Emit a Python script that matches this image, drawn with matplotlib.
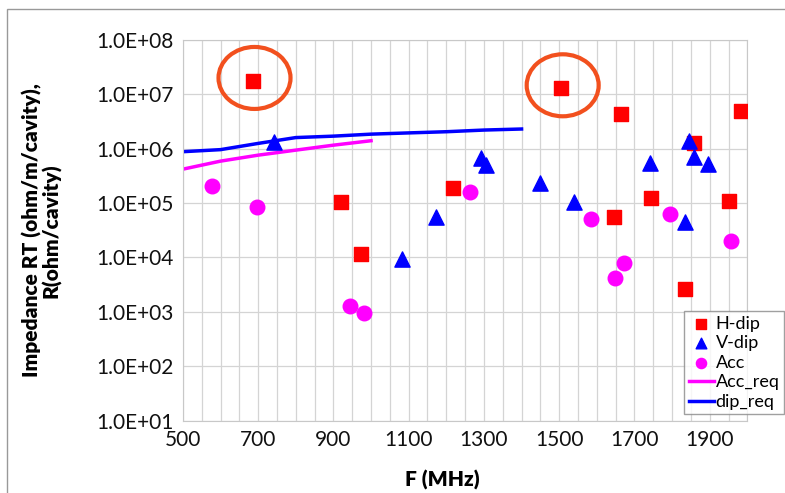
import numpy as np
import matplotlib
matplotlib.use("Agg")
import matplotlib.pyplot as plt
from matplotlib.patches import Ellipse, Rectangle
from matplotlib.transforms import ScaledTranslation

plt.rcParams['font.family'] = ['Lato', 'DejaVu Sans']

# H-dip modes
hdip_f = [685, 920, 974, 1219, 1504, 1663, 1982, 1859, 1743, 1645, 1951, 1834]
hdip_r = [1.76e7, 1.03e5, 1.15e4, 1.86e5, 1.29e7, 4.3e6, 5.0e6, 1.25e6, 1.25e5, 5.5e4, 1.08e5, 2.6e3]

# V-dip modes
vdip_f = [742, 1173, 1083, 1292, 1305, 1448, 1540, 1741, 1844, 1859, 1896, 1834]
vdip_r = [1.34e6, 5.6e4, 9.3e3, 6.6e5, 5.0e5, 2.35e5, 1.05e5, 5.5e5, 1.38e6, 7.1e5, 5.2e5, 4.5e4]

# accelerating modes
acc_f = [578, 697, 1262, 944, 981, 1584, 1794, 1957, 1671, 1649]
acc_r = [2.1e5, 8.3e4, 1.57e5, 1.28e3, 9.5e2, 5.0e4, 6.4e4, 2.0e4, 7.8e3, 4.2e3]

# requirement curves
accreq_f = [500, 600, 700, 800, 900, 1000]
accreq_r = [4.2e5, 5.9e5, 7.6e5, 9.4e5, 1.16e6, 1.4e6]
dipreq_f = [500, 600, 700, 800, 900, 1000, 1100, 1200, 1300, 1400]
dipreq_r = [8.8e5, 9.6e5, 1.25e6, 1.6e6, 1.7e6, 1.85e6, 1.95e6, 2.05e6, 2.2e6, 2.3e6]

# highlighted points (index into H-dip)
circled = [0, 4]

fig = plt.figure(figsize=(7.85, 4.93), dpi=100)
ax = fig.add_axes([0.233, 0.147, 0.719, 0.772])

ax.scatter(hdip_f, hdip_r, marker='s', s=110, color='#ff0000', label='H-dip', zorder=3)
ax.scatter(vdip_f, vdip_r, marker='^', s=120, color='#0000ff', label='V-dip', zorder=3)
ax.scatter(acc_f, acc_r, marker='o', s=110, color='#ff00ff', label='Acc', zorder=3)
ax.plot(accreq_f, accreq_r, color='#ff00ff', lw=2.5, label='Acc_req', zorder=2)
ax.plot(dipreq_f, dipreq_r, color='#0000ff', lw=2.5, label='dip_req', zorder=2)

ax.set_yscale('log')
ax.set_xlim(500, 2000)
ax.set_ylim(1e1, 1e8)
ax.set_xticks(np.arange(500, 2000, 200))
ax.set_xticks(np.arange(500, 2001, 50), minor=True)
ax.set_yticks([10.0 ** k for k in range(1, 9)])
ax.yaxis.set_minor_locator(matplotlib.ticker.NullLocator())
ax.set_yticklabels(['1.0E+%02d' % k for k in range(1, 9)])
ax.grid(True, which='both', color='#d4d4d4', lw=0.9)
ax.set_axisbelow(True)
ax.tick_params(which='both', length=0, labelsize=15, pad=7, colors='#111111')
for s in ax.spines.values():
    s.set_color('#c8c8c8')

ax.set_xlabel('F (MHz)', fontsize=15, fontweight='heavy', labelpad=2)
ax.xaxis.set_label_coords(0.46, -0.13)
ax.set_ylabel('Impedance RT (ohm/m/cavity),\nR(ohm/cavity)', fontsize=15,
              fontweight='heavy', linespacing=1.0)
ax.yaxis.set_label_coords(-0.215, 0.5)

# orange rings around the two strongest H-dip modes
for i in circled:
    tr = fig.dpi_scale_trans + ScaledTranslation(hdip_f[i], hdip_r[i], ax.transData)
    ring = Ellipse((0.02, 0.03), 0.72, 0.62, transform=tr, fill=False,
                   edgecolor='#f2501e', lw=3, zorder=4, clip_on=False)
    ax.add_patch(ring)

leg = ax.legend(loc='upper left', bbox_to_anchor=(684 / 785, 1 - 311 / 493),
                bbox_transform=fig.transFigure, fontsize=13, frameon=True,
                fancybox=False, borderpad=0.25, labelspacing=0.2, markerscale=0.7,
                handlelength=1.4, handletextpad=0.1, borderaxespad=0)
leg.get_frame().set_edgecolor('#888888')
leg.get_frame().set_linewidth(1)

fig.patches.append(Rectangle((7 / 785, -0.1), 1.2, 1 - 9 / 493 + 0.1,
                             transform=fig.transFigure, fill=False,
                             edgecolor='#999999', lw=1))

fig.savefig('out.png', dpi=100)
